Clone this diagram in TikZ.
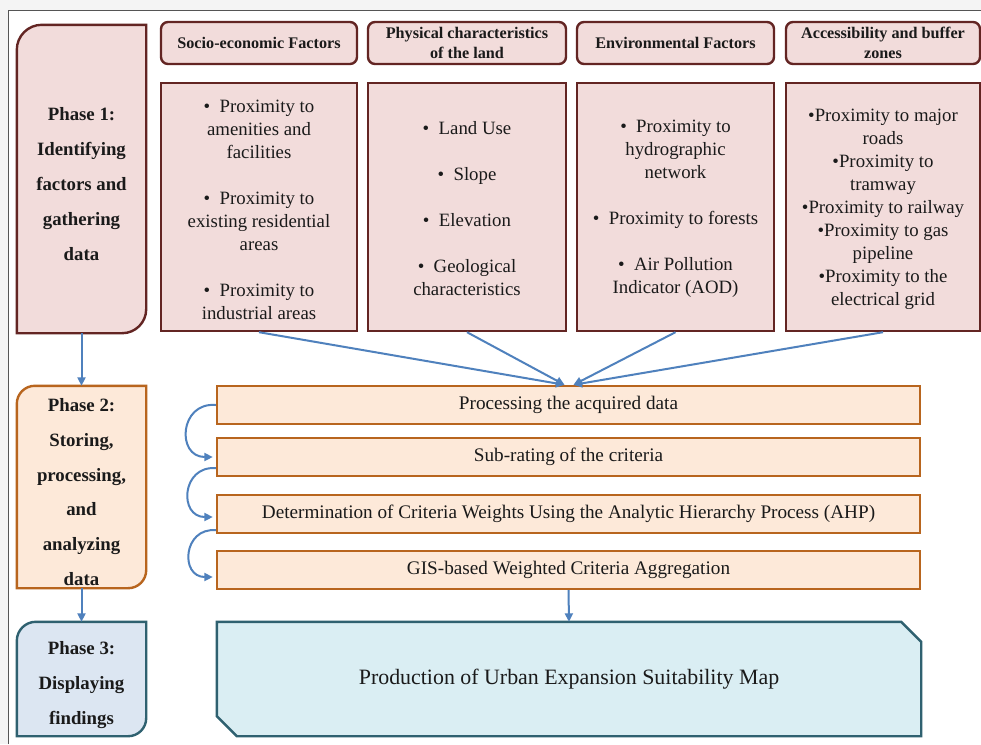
\documentclass[tikz,border=0pt]{standalone}
\usepackage{fontspec}
\setmainfont{Liberation Serif}
\usetikzlibrary{arrows.meta,backgrounds}
\definecolor{pinkfill}{HTML}{F2DCDB}
\definecolor{pinkline}{HTML}{632523}
\definecolor{orfill}{HTML}{FDE9D9}
\definecolor{orline}{HTML}{B8651E}
\definecolor{bluefill}{HTML}{DCE6F2}
\definecolor{blueline}{HTML}{2F6170}
\definecolor{cyanfill}{HTML}{DAEEF3}
\definecolor{arrowc}{HTML}{4F81BD}
\definecolor{txt}{HTML}{1A1A1A}
\definecolor{pagebg}{HTML}{F4F4F4}
\definecolor{frameline}{HTML}{555555}
\begin{document}
\begin{tikzpicture}[x=1pt,y=1pt,
  hdr/.style={draw=pinkline, fill=pinkfill, line width=2.4pt, rounded corners=7pt,
    minimum height=42pt, font=\fontsize{16.2}{19.5}\selectfont\bfseries, align=center,
    text=txt, inner sep=0pt},
  content/.style={draw=pinkline, fill=pinkfill, line width=2.4pt, minimum height=248pt,
    font=\fontsize{18.8}{23}\selectfont, align=center, text=txt, inner sep=0pt},
  proc/.style={draw=orline, fill=orfill, line width=2.4pt, minimum width=703pt,
    minimum height=38pt, font=\fontsize{19.2}{22}\selectfont, text=txt, inner sep=0pt},
  phasebox/.style={minimum width=129pt, inner sep=0pt},
  phasetxt/.style={font=\fontsize{18.8}{34.8}\selectfont\bfseries, align=center,
    text=txt, inner sep=0pt},
  shapepink/.style={draw=pinkline, fill=pinkfill, line width=2.4pt},
  shapeor/.style={draw=orline, fill=orfill, line width=2.4pt},
  shapeblue/.style={draw=blueline, fill=bluefill, line width=2.4pt},
  shapecyan/.style={draw=blueline, fill=cyanfill, line width=2.4pt},
  flow/.style={draw=arrowc, line width=2pt, -{Triangle[length=8.5pt,width=8pt]}}
]
\useasboundingbox (0,0) rectangle (981,-744);
\begin{scope}[on background layer]
  \fill[pagebg] (0,0) rectangle (981,-744);
  \fill[white] (8,-10) rectangle (981,-744);
  \draw[frameline, line width=1pt] (8,-744) -- (8,-10) -- (981,-10);
\end{scope}

% headers
\node[hdr, minimum width=196pt] (h1) at (259,-43) {Socio-economic Factors};
\node[hdr, minimum width=198pt] (h2) at (467,-43) {Physical characteristics\\of the land};
\node[hdr, minimum width=197pt] (h3) at (675.5,-43) {Environmental Factors};
\node[hdr, minimum width=194pt] (h4) at (883,-43) {Accessibility and buffer\\zones};

% contents
\node[content, minimum width=196pt] (c1) at (259,-207) {};
\node[content, minimum width=198pt] (c2) at (467,-207) {};
\node[content, minimum width=197pt] (c3) at (675.5,-207) {};
\node[content, minimum width=194pt] (c4) at (883,-207) {};
\node[content, draw=none, fill=none, minimum height=0pt] (c1t) at (259,-209.5)
  {\textbullet\ \ Proximity to\\amenities and\\facilities\\[23pt]\textbullet\ \ Proximity to\\existing residential\\areas\\[23pt]\textbullet\ \ Proximity to\\industrial areas};
\node[content, draw=none, fill=none, minimum height=0pt] (c2t) at (467,-209)
  {\textbullet\ \ Land Use\\[23pt]\textbullet\ \ Slope\\[23pt]\textbullet\ \ Elevation\\[23pt]\textbullet\ \ Geological\\characteristics};
\node[content, draw=none, fill=none, minimum height=0pt] (c3t) at (675.5,-209)
  {\textbullet\ \ Proximity to\\hydrographic\\network\\[23pt]\textbullet\ \ Proximity to forests\\[23pt]\textbullet\ \ Air Pollution\\Indicator (AOD)};
\node[content, draw=none, fill=none, minimum height=0pt] (c4t) at (883,-209)
  {\textbullet Proximity to major\\roads\\\textbullet Proximity to\\tramway\\\textbullet Proximity to railway\\\textbullet Proximity to gas\\pipeline\\\textbullet Proximity to the\\electrical grid};

% phase boxes
\node[phasebox, minimum height=308pt] (p1) at (81.5,-179) {};
\node[phasebox, minimum height=202pt] (p2) at (81.5,-487) {};
\node[phasebox, minimum height=114pt] (p3) at (81.5,-679) {};
\node[phasetxt] (p1t) at (81.5,-184) {Phase 1:\\Identifying\\factors and\\gathering\\data};
\node[phasetxt] (p2t) at (81.5,-492) {Phase 2:\\Storing,\\processing,\\and\\analyzing\\data};
\node[phasetxt] (p3t) at (81.5,-685) {Phase 3:\\Displaying\\findings};

\begin{scope}[on background layer]
  \draw[shapepink] (p1.north east) -- ([xshift=25pt]p1.north west)
    arc[start angle=90,end angle=180,radius=25pt] -- (p1.south west)
    -- ([xshift=-24pt]p1.south east) arc[start angle=270,end angle=360,radius=24pt] -- cycle;
  \draw[shapeor] (p2.north east) -- ([xshift=18pt]p2.north west)
    arc[start angle=90,end angle=180,radius=18pt] -- (p2.south west)
    -- ([xshift=-18pt]p2.south east) arc[start angle=270,end angle=360,radius=18pt] -- cycle;
  \draw[shapeblue] (p3.north east) -- ([xshift=19pt]p3.north west)
    arc[start angle=90,end angle=180,radius=19pt] -- (p3.south west)
    -- ([xshift=-18pt]p3.south east) arc[start angle=270,end angle=360,radius=18pt] -- cycle;
\end{scope}

% process boxes
\node[proc] (pr1) at (568.5,-405) {Processing the acquired data};
\node[proc] (pr2) at (568.5,-457) {Sub-rating of the criteria};
\node[proc] (pr3) at (568.5,-514) {Determination of Criteria Weights Using the Analytic Hierarchy Process (AHP)};
\node[proc] (pr4) at (568.5,-570) {GIS-based Weighted Criteria Aggregation};

% production
\node[minimum width=704pt, minimum height=114pt, inner sep=0pt, text=txt,
  font=\fontsize{21.9}{25}\selectfont] (pr5) at (569,-679)
  {Production of Urban Expansion Suitability Map};
\begin{scope}[on background layer]
  \draw[shapecyan] (pr5.north west) -- ([xshift=-20pt]pr5.north east)
    -- ([yshift=-20pt]pr5.north east) -- (pr5.south east)
    -- ([xshift=20pt]pr5.south west) -- ([yshift=20pt]pr5.south west) -- cycle;
\end{scope}

% arrows
\draw[flow] (p1.south) -- (p2.north);
\draw[flow] (p2.south) -- (p3.north);
\draw[flow] (c1.south) -- ([xshift=-4pt]pr1.north);
\draw[flow] (c2.south) -- ([xshift=-4pt]pr1.north);
\draw[flow] (c3.south) -- ([xshift=5pt]pr1.north);
\draw[flow] (c4.south) -- ([xshift=5pt]pr1.north);
\draw[flow] (pr1.west) to[out=175,in=180,looseness=1.8] ([xshift=-3pt]pr2.west);
\draw[flow] ([yshift=9pt]pr2.south west) to[out=175,in=180,looseness=1.8] ([xshift=-3pt,yshift=-3pt]pr3.west);
\draw[flow] ([yshift=4pt]pr3.south west) to[out=175,in=180,looseness=1.8] ([xshift=-3pt,yshift=-7pt]pr4.west);
\draw[flow] (pr4.south) -- (pr5.north);
\end{tikzpicture}
\end{document}
